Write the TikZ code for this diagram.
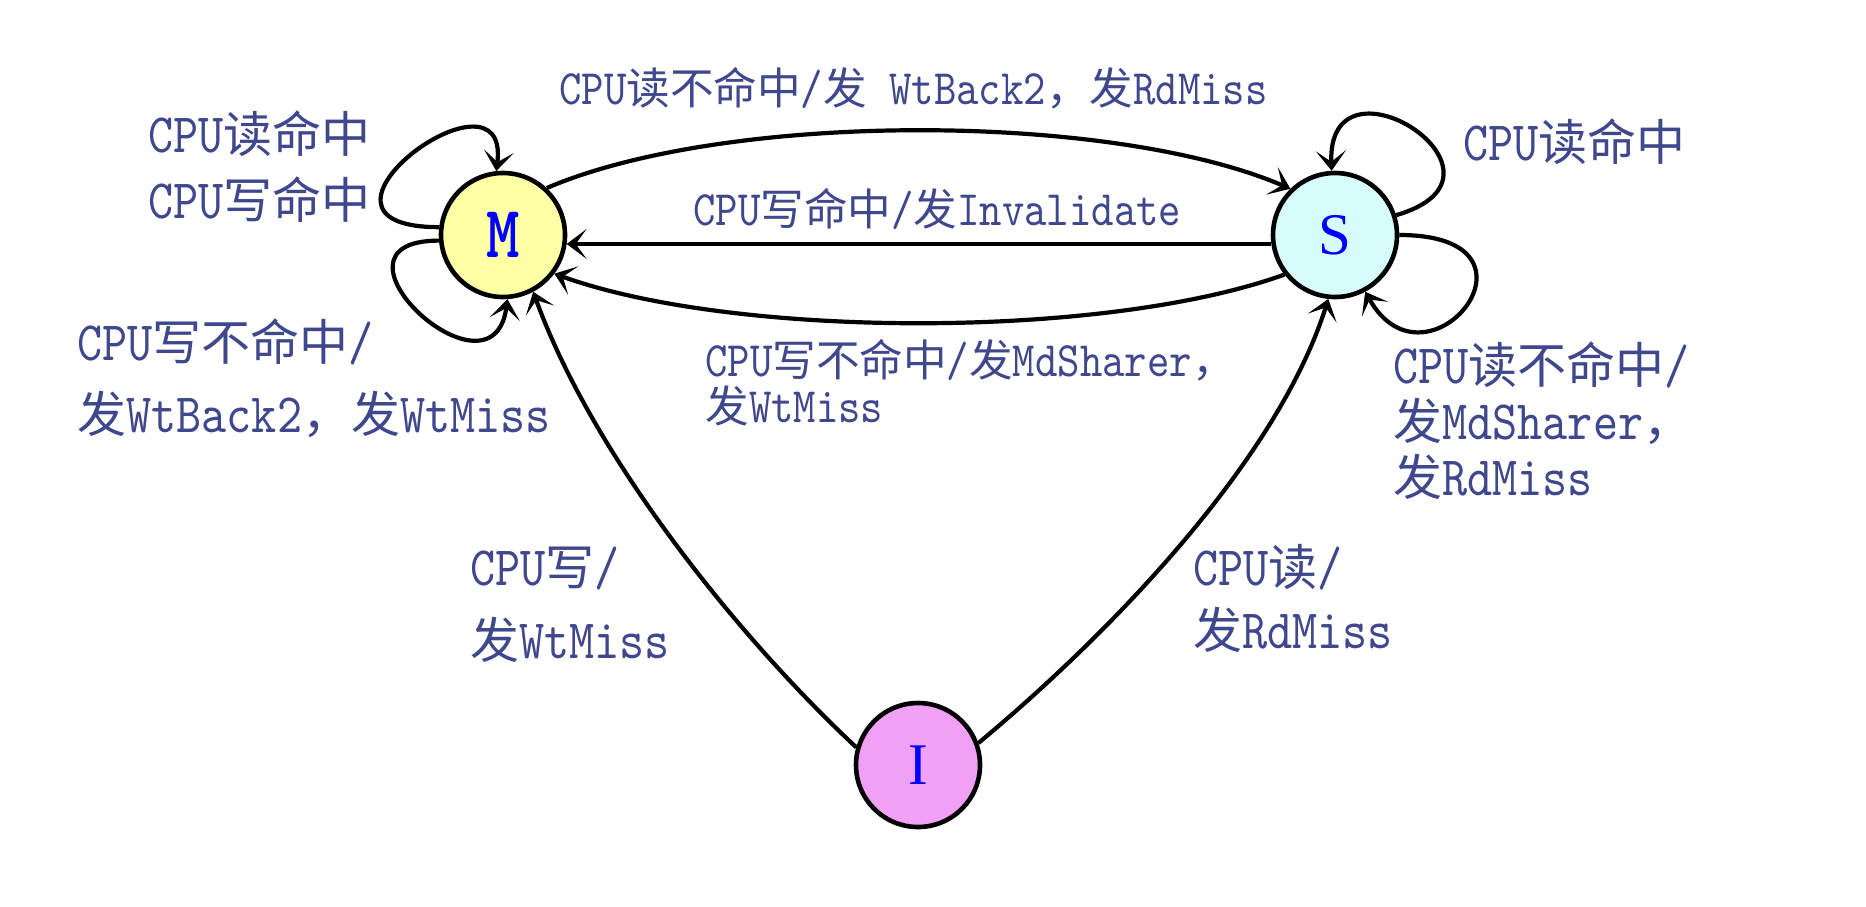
\documentclass[tikz,border=0pt]{standalone}
\usepackage{fontspec}
\usetikzlibrary{arrows.meta}
\newfontfamily\latf{lmmono10-regular.otf}[FakeStretch=0.86]
\newfontfamily\latbf{lmmonolt10-bold.otf}[FakeStretch=0.86]
\newfontfamily\serf{Liberation Serif}
\newfontfamily\cjkf{Noto Sans CJK SC}
\definecolor{labc}{RGB}{63,72,140}
\definecolor{mfill}{RGB}{255,255,166}
\definecolor{sfill}{RGB}{214,252,252}
\definecolor{ifill}{RGB}{240,160,245}
\definecolor{letc}{RGB}{0,0,255}
\newcommand\enA[1]{{\latf\fontsize{27.8}{30}\selectfont #1}}
\newcommand\zhA[1]{{\cjkf\fontsize{24.5}{30}\selectfont #1}}
\newcommand\enB[1]{{\latf\fontsize{24.8}{30}\selectfont #1}}
\newcommand\zhB[1]{{\cjkf\fontsize{21.8}{30}\selectfont #1}}
\newcommand\lns[2]{\vtop{\baselineskip=#1\lineskiplimit=-100pt\lineskip=0pt #2}}
\begin{document}
\begin{tikzpicture}[x=0.5pt,y=-0.5pt,
  state/.style={circle,draw,line width=2.3pt,minimum size=62pt,inner sep=0pt},
  trans/.style={line width=2.1pt,-{Stealth[length=10pt,width=15pt,inset=5.5pt]}},
  lab/.style={inner sep=0pt,anchor=base west,text=labc}]
\path[use as bounding box] (0,0) rectangle (1866,906);
% states
\node[state,fill=mfill] (M) at (503,235) {\latbf\fontsize{37}{38}\selectfont\color{letc}M};
\node[state,fill=sfill] (S) at (1335,235) {\serf\fontsize{29.5}{31}\selectfont\color{letc}S};
\node[state,fill=ifill] (I) at (918,765) {\serf\fontsize{29.5}{31}\selectfont\color{letc}I};
% transitions
\draw[trans] (M.47) .. controls +(180,-77) and +(-180,-77) .. (S.134);
\draw[trans] (S.188) -- (M.352);
\draw[trans] (S.218) .. controls +(-180,65) and +(180,65) .. (M.323);
\draw[trans] (I.164) .. controls +(-124,-116) and +(58,160) .. (M.298);
\draw[trans] (I.20) .. controls +(131,-109) and +(-51,162) .. (S.264);
% self loops
\draw[trans] (M.173) .. controls +(-165,0) and +(15,-118) .. (M.96);
\draw[trans] (M.185) .. controls +(-130,0) and +(-15,112) .. (M.274);
\draw[trans] (S.18) .. controls +(138,-40) and +(-5,-128) .. (S.93);
\draw[trans] (S.0) .. controls +(162,0) and +(62,110) .. (S.298);
% labels
\node[lab] (la) at (148,152) {\lns{33pt}{\hbox{\enA{CPU}\zhA{读命中}}\hbox{\enA{CPU}\zhA{写命中}}}};
\node[lab] (lb) at (77,360) {\lns{36pt}{\hbox{\enA{CPU}\zhA{写不命中}\enA{/}}\hbox{\zhA{发}\enA{WtBack2}\zhA{，发}\enA{WtMiss}}}};
\node[lab] (lc) at (559,104) {\enB{CPU}\zhB{读不命中}\enB{/}\zhB{发}\enB{\ WtBack2}\zhB{，发}\enB{RdMiss}};
\node[lab] (ld) at (693,225) {\enB{CPU}\zhB{写命中}\enB{/}\zhB{发}\enB{Invalidate}};
\node[lab] (le) at (705,376) {\lns{23pt}{\hbox{\enB{CPU}\zhB{写不命中}\enB{/}\zhB{发}\enB{MdSharer}\zhB{，}}\hbox{\zhB{发}\enB{WtMiss}}}};
\node[lab] (lf) at (1463,160) {\enA{CPU}\zhA{读命中}};
\node[lab] (lg) at (1393,383) {\lns{28pt}{\hbox{\enA{CPU}\zhA{读不命中}\enA{/}}\hbox{\zhA{发}\enA{MdSharer}\zhA{，}}\hbox{\zhA{发}\enA{RdMiss}}}};
\node[lab] (lh) at (470,585) {\lns{36.5pt}{\hbox{\enA{CPU}\zhA{写}\enA{/}}\hbox{\zhA{发}\enA{WtMiss}}}};
\node[lab] (lj) at (1193,585) {\lns{31.5pt}{\hbox{\enA{CPU}\zhA{读}\enA{/}}\hbox{\zhA{发}\enA{RdMiss}}}};
\end{tikzpicture}
\end{document}
